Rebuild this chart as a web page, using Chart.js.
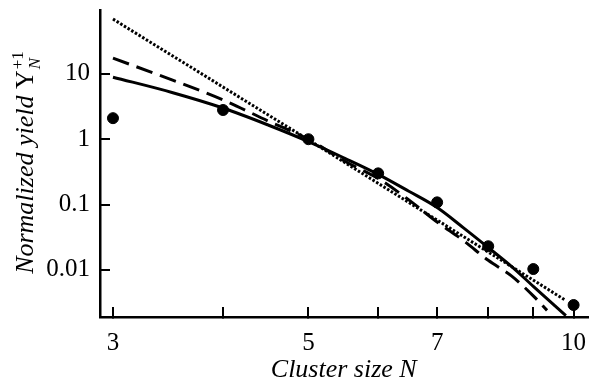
<!DOCTYPE html>
<html>
<head>
<meta charset="utf-8">
<script src="https://cdn.jsdelivr.net/npm/chart.js@4.4.1/dist/chart.umd.min.js"></script>
<style>
  html, body { margin: 0; padding: 0; background: #fff; }
  #wrap { width: 594px; height: 381px; }
</style>
</head>
<body>
<div id="wrap"><canvas id="yieldChart" width="594" height="381"></canvas></div>
<script>
// Measured normalized yields (dots)
const clusterSizes = [3, 4, 5, 6, 7, 8, 9, 10];
const measuredYield = [2.1, 2.8, 1.0, 0.30, 0.108, 0.023, 0.0103, 0.0029];

// Solid curve
const solidN = [3, 3.5, 4, 4.5, 5, 5.5, 6, 6.5, 7, 7.5, 8, 8.5, 9, 9.8];
const solidYield = [8.9, 5.2, 3.0, 1.65, 0.92, 0.51, 0.29, 0.16, 0.09, 0.044, 0.022, 0.0113, 0.0056, 0.002];

// Dashed curve
const dashedN = [3, 3.5, 4, 4.5, 5, 5.5, 6, 6.5, 7, 7.5, 8, 8.5, 9, 9.33];
const dashedYield = [17.4, 8.1, 4.0, 1.9, 1.0, 0.46, 0.25, 0.118, 0.054, 0.028, 0.014, 0.0081, 0.0040, 0.0024];

// Dotted straight line (power law)
const dottedN = [3, 5, 9.8];
const dottedYield = [69, 0.98, 0.0034];

// Axis ticks
const xTicks = [3, 4, 5, 6, 7, 8, 9, 10];
const xTickLabels = ['3', '', '5', '', '7', '', '', '10'];
const yTicks = [0.01, 0.1, 1, 10];
const yTickLabels = ['0.01', '0.1', '1', '10'];

const SERIF = "'Liberation Serif', 'DejaVu Serif', serif";

function pairs(xs, ys) {
  return xs.map((x, i) => ({ x, y: ys[i] }));
}

// The two axis titles (the y title needs a super- and subscript)
const axisTitles = {
  id: 'axisTitles',
  afterDraw(chart) {
    const { ctx, chartArea: a } = chart;
    ctx.save();
    ctx.fillStyle = '#000';
    ctx.textBaseline = 'alphabetic';

    ctx.font = `italic 26px ${SERIF}`;
    ctx.textAlign = 'center';
    ctx.fillText('Cluster size N', (a.left + a.right) / 2, 377);

    ctx.translate(33, 163);
    ctx.rotate(-Math.PI / 2);
    ctx.textAlign = 'left';
    const main = 'Normalized yield ';
    ctx.font = `italic 26px ${SERIF}`;
    const w1 = ctx.measureText(main).width;
    ctx.font = `26px ${SERIF}`;
    const w2 = ctx.measureText('Y').width;
    ctx.font = `17px ${SERIF}`;
    const w3 = Math.max(ctx.measureText('+1').width, ctx.measureText('N').width);
    let cx = -(w1 + w2 + w3) / 2;
    ctx.font = `italic 26px ${SERIF}`;
    ctx.fillText(main, cx, 0);
    cx += w1;
    ctx.font = `26px ${SERIF}`;
    ctx.fillText('Y', cx, 0);
    cx += w2;
    ctx.font = `17px ${SERIF}`;
    ctx.fillText('+1', cx + 1, -10);
    ctx.font = `italic 17px ${SERIF}`;
    ctx.fillText('N', cx + 1, 7);
    ctx.restore();
  }
};

// inward tick marks: negative tick length, no lines across the plot
const tickGrid = {
  display: true,
  drawOnChartArea: false,
  drawTicks: true,
  tickLength: -10,
  color: '#000',
  lineWidth: 2
};

new Chart(document.getElementById('yieldChart').getContext('2d'), {
  type: 'scatter',
  data: {
    datasets: [
      {
        label: 'Dotted',
        type: 'line',
        data: pairs(dottedN, dottedYield),
        borderColor: '#000',
        borderWidth: 3,
        borderDash: [2.5, 1.8],
        pointRadius: 0,
        fill: false
      },
      {
        label: 'Dashed',
        type: 'line',
        data: pairs(dashedN, dashedYield),
        borderColor: '#000',
        borderWidth: 3,
        borderDash: [17, 8],
        pointRadius: 0,
        cubicInterpolationMode: 'monotone',
        fill: false
      },
      {
        label: 'Solid',
        type: 'line',
        data: pairs(solidN, solidYield),
        borderColor: '#000',
        borderWidth: 3,
        pointRadius: 0,
        cubicInterpolationMode: 'monotone',
        fill: false
      },
      {
        label: 'Measured',
        data: pairs(clusterSizes, measuredYield),
        backgroundColor: '#000',
        borderColor: '#000',
        pointRadius: 5.5
      }
    ]
  },
  options: {
    responsive: false,
    animation: false,
    events: [],
    layout: { padding: { top: 10, right: 0, left: 0, bottom: 0 } },
    plugins: { legend: { display: false }, tooltip: { enabled: false } },
    scales: {
      x: {
        type: 'logarithmic',
        min: 2.9,
        max: 10.37,
        grid: tickGrid,
        border: { display: true, color: '#000', width: 2.5 },
        afterBuildTicks: s => { s.ticks = xTicks.map(v => ({ value: v })); },
        afterFit: s => { s.height = 64; s.paddingLeft = 0; s.paddingRight = 0; },
        ticks: {
          autoSkip: false,
          maxRotation: 0,
          padding: 21,
          color: '#000',
          font: { family: SERIF, size: 25 },
          callback: (v) => xTickLabels[xTicks.indexOf(v)] ?? ''
        }
      },
      y: {
        type: 'logarithmic',
        min: 0.0019,
        max: 95,
        grid: tickGrid,
        border: { display: true, color: '#000', width: 2.5 },
        afterBuildTicks: s => { s.ticks = yTicks.map(v => ({ value: v })); },
        afterFit: s => { s.width = 100; s.paddingTop = 0; s.paddingBottom = 0; },
        ticks: {
          autoSkip: false,
          padding: 20,
          color: '#000',
          font: { family: SERIF, size: 25 },
          callback: (v) => yTickLabels[yTicks.indexOf(v)] ?? ''
        }
      }
    }
  },
  plugins: [axisTitles]
});
</script>
</body>
</html>
